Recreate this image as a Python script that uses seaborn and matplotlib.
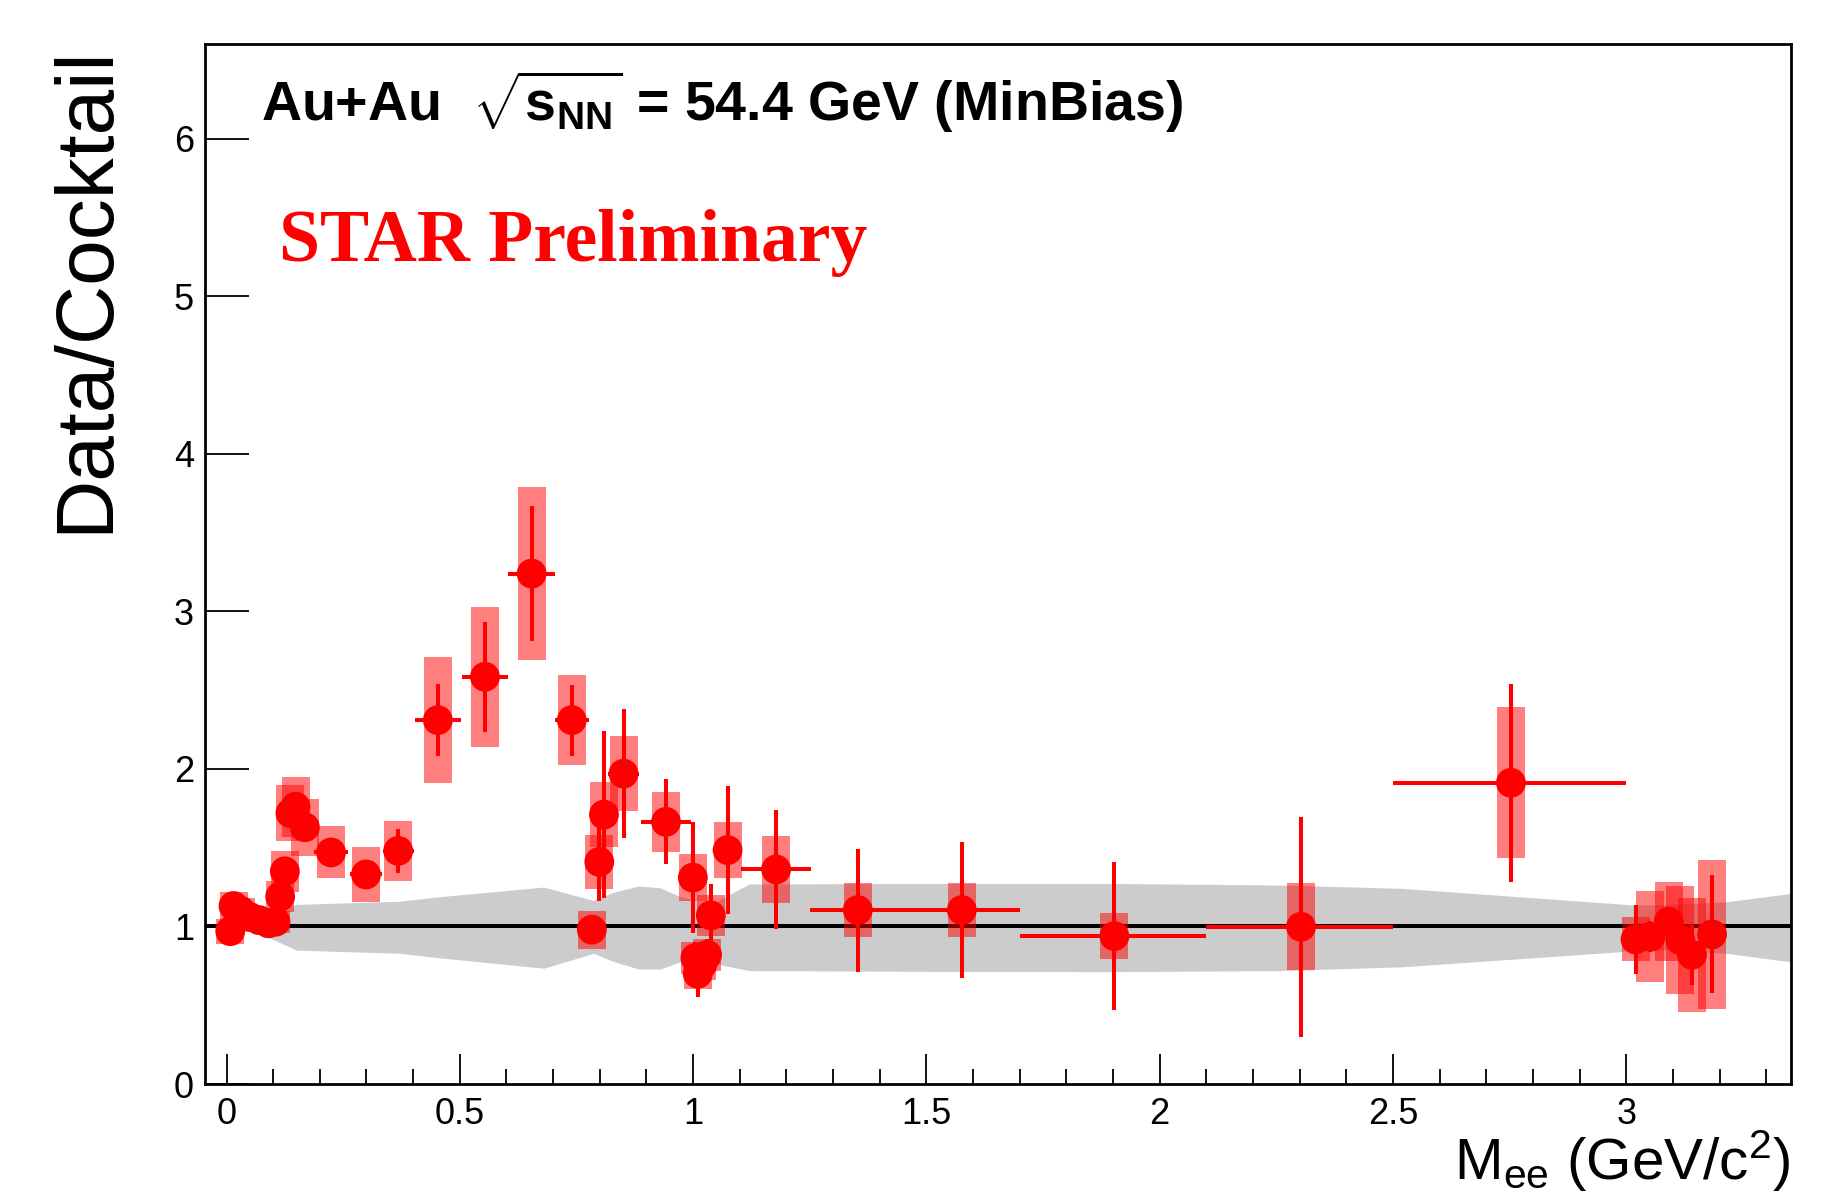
import numpy as np
import pandas as pd
import matplotlib
matplotlib.use("Agg")
import matplotlib.pyplot as plt
from matplotlib.ticker import MultipleLocator, FixedLocator
import seaborn as sns

# ---------------- data ----------------
mass = [0.008, 0.015, 0.03, 0.05, 0.07, 0.09, 0.105, 0.115, 0.125, 0.137, 0.148, 0.168,
        0.224, 0.299, 0.368, 0.453, 0.554, 0.654, 0.74, 0.783, 0.799, 0.809, 0.851,
        0.942, 0.9995, 1.005, 1.01, 1.02, 1.03, 1.038, 1.074, 1.178, 1.353, 1.576,
        1.903, 2.303, 2.753, 3.02, 3.052, 3.091, 3.116, 3.141, 3.184]
ratio = [0.97, 1.13, 1.10, 1.06, 1.04, 1.02, 1.03, 1.19, 1.35, 1.72, 1.76, 1.63,
         1.47, 1.33, 1.48, 2.31, 2.585, 3.24, 2.31, 0.98, 1.41, 1.71, 1.97,
         1.664, 1.31, 0.80, 0.70, 0.76, 0.82, 1.07, 1.485, 1.362, 1.104, 1.104,
         0.939, 0.998, 1.912, 0.918, 0.935, 1.03, 0.914, 0.82, 0.95]
x_low = [0.005, 0.005, 0.01, 0.01, 0.01, 0.01, 0.005, 0.005, 0.005, 0.005, 0.005, 0.01,
         0.037, 0.034, 0.033, 0.05, 0.05, 0.05, 0.036, 0.008, 0.008, 0.008, 0.033,
         0.054, 0.005, 0.005, 0.005, 0.005, 0.005, 0.01, 0.02, 0.075, 0.103, 0.126,
         0.203, 0.203, 0.253, 0.01, 0.01, 0.01, 0.01, 0.01, 0.01]
x_high = [0.005, 0.005, 0.01, 0.01, 0.01, 0.01, 0.005, 0.005, 0.005, 0.005, 0.005, 0.01,
          0.037, 0.034, 0.033, 0.05, 0.05, 0.05, 0.036, 0.008, 0.008, 0.008, 0.033,
          0.054, 0.005, 0.005, 0.005, 0.005, 0.005, 0.01, 0.02, 0.075, 0.097, 0.124,
          0.197, 0.197, 0.247, 0.01, 0.01, 0.01, 0.01, 0.01, 0.01]
stat_err = [0.03, 0.04, 0.03, 0.03, 0.03, 0.03, 0.03, 0.04, 0.05, 0.06, 0.06, 0.06,
            0.05, 0.06, 0.14, 0.23, 0.35, 0.43, 0.225, 0.07, 0.25, 0.53, 0.41,
            0.27, 0.35, 0.10, 0.15, 0.10, 0.10, 0.20, 0.405, 0.38, 0.39, 0.43,
            0.47, 0.70, 0.63, 0.22, 0.10, 0.08, 0.10, 0.19, 0.375]
sys_err = [0.08, 0.09, 0.08, 0.07, 0.07, 0.07, 0.07, 0.10, 0.13, 0.18, 0.19, 0.18,
           0.165, 0.175, 0.19, 0.40, 0.445, 0.55, 0.285, 0.12, 0.17, 0.205, 0.24,
           0.19, 0.15, 0.10, 0.10, 0.10, 0.10, 0.13, 0.175, 0.215, 0.17, 0.17,
           0.148, 0.275, 0.48, 0.14, 0.29, 0.25, 0.34, 0.36, 0.475]

# cocktail uncertainty band
band_x = [0.09, 0.12, 0.15, 0.37, 0.46, 0.68, 0.787, 0.827, 0.883, 0.93, 0.972, 1.0,
          1.045, 1.12, 1.5, 1.9, 2.26, 2.52, 2.99, 3.015, 3.1, 3.216, 3.353]
band_lo = [0.93, 0.89, 0.85, 0.83, 0.80, 0.735, 0.83, 0.78, 0.73, 0.73, 0.775, 0.79,
           0.765, 0.72, 0.715, 0.713, 0.72, 0.744, 0.84, 0.861, 0.85, 0.829, 0.776]
band_hi = [1.07, 1.12, 1.14, 1.16, 1.19, 1.25, 1.165, 1.215, 1.257, 1.245, 1.19, 1.17,
           1.15, 1.27, 1.273, 1.273, 1.263, 1.242, 1.142, 1.136, 1.14, 1.157, 1.21]

x_ticks = [0, 0.5, 1, 1.5, 2, 2.5, 3]
x_ticklabels = ["0", "0.5", "1", "1.5", "2", "2.5", "3"]
y_ticks = [0, 1, 2, 3, 4, 5, 6]
y_ticklabels = ["0", "1", "2", "3", "4", "5", "6"]

df = pd.DataFrame({"mass": mass, "ratio": ratio})
ratio_a = np.array(ratio)
sys_a = np.array(sys_err)

# ---------------- style ----------------
sns.set_theme(style="ticks")
plt.rcParams["font.family"] = ["Liberation Sans", "DejaVu Sans"]
plt.rcParams["mathtext.fontset"] = "custom"
plt.rcParams["mathtext.rm"] = "Liberation Sans"
plt.rcParams["mathtext.it"] = "Liberation Sans:italic"
plt.rcParams["mathtext.bf"] = "Liberation Sans:bold"
plt.rcParams["text.color"] = "black"
plt.rcParams["axes.labelcolor"] = "black"
plt.rcParams["xtick.color"] = "black"
plt.rcParams["ytick.color"] = "black"

fig = plt.figure(figsize=(18.44, 11.97), dpi=100)
ax = fig.add_axes([0.1112, 0.0944, 0.8600, 0.8686])

ax.fill_between(band_x, band_lo, band_hi, color="#cccccc", lw=0, zorder=1)
ax.axhline(1.0, color="black", lw=2.9, zorder=2)
ax.bar(mass, 2 * sys_a, bottom=ratio_a - sys_a, width=0.06, color="red",
       alpha=0.5, lw=0, zorder=3)
ax.errorbar(mass, ratio, xerr=[x_low, x_high], yerr=stat_err, fmt="none",
            ecolor="red", elinewidth=2.9, capsize=0, zorder=4)
sns.scatterplot(data=df, x="mass", y="ratio", color="red", s=460,
                edgecolor="none", linewidth=0, legend=False, zorder=5, ax=ax)

ax.set_xlim(-0.046, 3.353)
ax.set_ylim(0, 6.6)
ax.set_xlabel("")
ax.set_ylabel("")
ax.xaxis.set_major_locator(FixedLocator(x_ticks))
ax.set_xticklabels(x_ticklabels)
ax.xaxis.set_minor_locator(MultipleLocator(0.1))
ax.yaxis.set_major_locator(FixedLocator(y_ticks))
ax.set_yticklabels(y_ticklabels)
ax.yaxis.set_minor_locator(FixedLocator([]))

ax.tick_params(axis="x", which="major", direction="in", length=21.6, width=1.3,
               labelsize=26, pad=9, colors="black", top=False)
ax.tick_params(axis="x", which="minor", direction="in", length=10.8, width=1.3,
               top=False, colors="black")
ax.tick_params(axis="y", which="major", direction="in", length=32, width=1.3,
               labelsize=26, pad=8, colors="black", right=False)
for sp in ax.spines.values():
    sp.set_visible(True)
    sp.set_linewidth(2)
    sp.set_color("black")

fig.text(0.047, 0.962, "Data/Cocktail", rotation=90, ha="center", va="top",
         fontsize=59, color="black")
fig.text(0.971, 0.0142, r"M$_{\mathrm{ee}}$ (GeV/c$^{2}$)", ha="right",
         va="baseline", fontsize=42, color="black")
fig.text(261 / 1844, 1 - 121 / 1197,
         r"Au+Au  $\sqrt{\mathbf{s}_{\mathbf{NN}}}$ = 54.4 GeV (MinBias)",
         ha="left", va="baseline", fontsize=40, fontweight="bold", color="black")
fig.text(279 / 1844, 1 - 261 / 1197, "STAR Preliminary", color="red",
         family="Liberation Serif", fontweight="bold", fontsize=53,
         ha="left", va="baseline")

fig.savefig("out.png", dpi=100)
